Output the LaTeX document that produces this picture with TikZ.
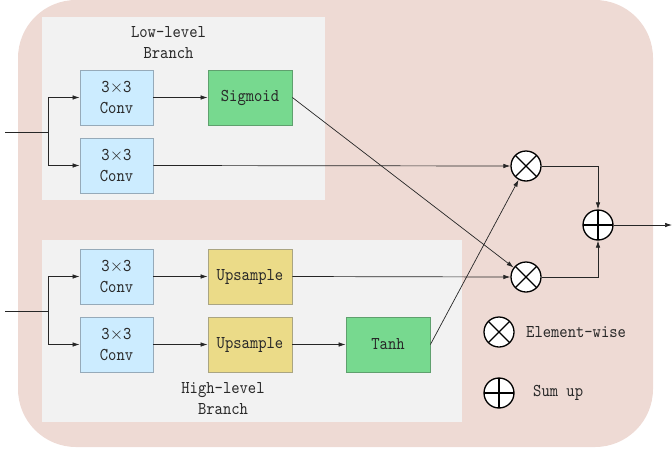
\documentclass[tikz,border=0pt]{standalone}
\usepackage{fontspec}
\setmonofont{lmmono10-regular.otf}[FakeStretch=0.88]
\usetikzlibrary{arrows.meta}
\definecolor{bgpink}{RGB}{238,218,212}
\definecolor{panel}{RGB}{242,242,242}
\definecolor{convfill}{RGB}{204,236,255}
\definecolor{convedge}{RGB}{150,170,185}
\definecolor{greenfill}{RGB}{119,217,143}
\definecolor{greenedge}{RGB}{95,160,110}
\definecolor{yellowfill}{RGB}{235,219,136}
\definecolor{yellowedge}{RGB}{170,165,130}
\definecolor{txt}{RGB}{40,40,40}
\tikzset{
  blk/.style={rectangle, minimum width=73pt, minimum height=55pt, inner sep=0pt,
    line width=0.8pt, align=center, text=txt,
    font=\ttfamily\fontsize{18}{21.5}\selectfont},
  convbox/.style={blk, fill=convfill, draw=convedge},
  actbox/.style={blk, minimum width=84pt, fill=greenfill, draw=greenedge},
  upbox/.style={blk, minimum width=84pt, fill=yellowfill, draw=yellowedge},
  lbl/.style={text=txt, align=center, font=\ttfamily\fontsize{18}{20.5}\selectfont},
  wire/.style={line width=0.7pt, draw=black!85},
  arr/.style={wire, -{Latex[length=7pt,width=4.5pt]}},
  opline/.style={line width=1.3pt},
  opbase/.style={circle, minimum size=30pt, inner sep=0pt, fill=white, draw=black, line width=1.3pt},
  mult/.style={opbase, path picture={
    \draw[opline] (path picture bounding box.north west) -- (path picture bounding box.south east)
                  (path picture bounding box.north east) -- (path picture bounding box.south west);}},
  plus/.style={opbase, path picture={
    \draw[opline] (path picture bounding box.north) -- (path picture bounding box.south)
                  (path picture bounding box.west) -- (path picture bounding box.east);}},
}
\begin{document}
\begin{tikzpicture}[x=1pt, y=-1pt]
\useasboundingbox (0,0) rectangle (672,453);
% background panel and branch panels
\fill[bgpink, rounded corners=58pt] (18,0) rectangle (653,447);
\fill[panel] (42,17) rectangle (325,200);
\fill[panel] (42,240) rectangle (462,422);
\node[lbl] (lowlbl) at (168.5,42.5) {Low-level\\Branch};
\node[lbl] (highlbl) at (223,398.5) {High-level\\Branch};

% low-level branch
\node[convbox] (c1) at (116.5,97.5) {3$\times$3\\Conv};
\node[convbox] (c2) at (116.5,165.5) {3$\times$3\\Conv};
\node[actbox] (sig) at (250,97.5) {Sigmoid};

% high-level branch
\node[convbox] (c3) at (116.5,276.5) {3$\times$3\\Conv};
\node[convbox] (c4) at (116.5,344.5) {3$\times$3\\Conv};
\node[upbox] (up1) at (250,276.5) {Upsample};
\node[upbox] (up2) at (250,344.5) {Upsample};
\node[actbox] (tanh) at (388,344.5) {Tanh};

% operators
\node[mult] (m1) at (526,166) {};
\node[mult] (m2) at (526,277) {};
\node[plus] (sum) at (598,225) {};

% legend
\node[mult] (legm) at (499,332) {};
\node[lbl, anchor=west, inner sep=0pt] (legmt) at (526,332) {Element-wise};
\node[plus] (legp) at (499,393) {};
\node[lbl, anchor=west, inner sep=0pt] (legpt) at (533,393) {Sum up};

% inputs and output
\coordinate (in1) at (5,132);
\coordinate (j1) at (48,132);
\coordinate (in2) at (5,311);
\coordinate (j2) at (48,311);
\coordinate (out) at (672,225);

\draw[wire] (in1) -- (j1);
\draw[arr] (j1) |- (c1.west);
\draw[arr] (j1) |- (c2.west);
\draw[wire] (in2) -- (j2);
\draw[arr] (j2) |- (c3.west);
\draw[arr] (j2) |- (c4.west);

\draw[arr] (c1) -- (sig);
\draw[arr] (c3) -- (up1);
\draw[arr] (c4) -- (up2);
\draw[arr] (up2) -- (tanh);

\draw[arr] (c2.east) -- (m1.west);
\draw[arr] (up1.east) -- (m2.west);
\draw[arr] (sig.east) -- (m2);
\draw[arr] (tanh.east) -- (m1);

\draw[arr] (m1.east) -| (sum.north);
\draw[arr] (m2.east) -| (sum.south);
\draw[arr] (sum.east) -- (out);
\end{tikzpicture}
\end{document}
